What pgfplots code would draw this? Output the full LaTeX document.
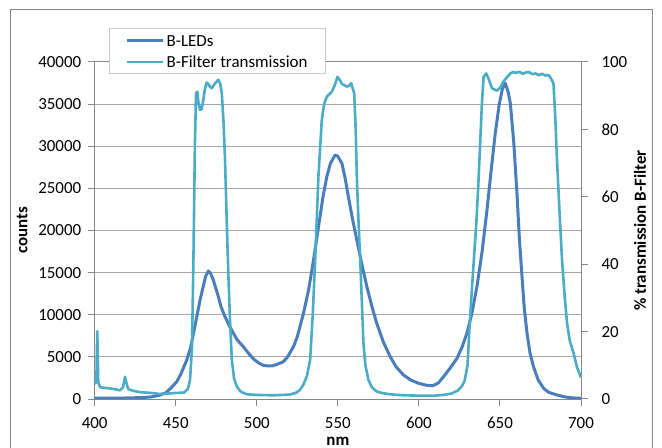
\documentclass[border=0pt]{standalone}
\usepackage{fontspec}
\setmainfont{Carlito}
\usepackage{pgfplots}
\pgfplotsset{compat=1.18}
\definecolor{ledblue}{HTML}{4A7EBB}
\definecolor{filtcyan}{HTML}{4BACC6}
\definecolor{axgray}{HTML}{868686}
\definecolor{gridgray}{HTML}{A6A6A6}
\newcommand{\cf}{\fontsize{17}{20}\selectfont}
\newcommand{\legtxt}[1]{\raisebox{0pt}[13bp][2bp]{#1}}

\pgfplotstableread{
nm counts
400 100
410 100
420 120
430 180
435 250
440 450
444 750
447 1300
450.6 2050
453 2900
456.8 4630
459 6000
461 7830
463 9800
465 11750
467 13400
468.5 14600
470.1 15190
471.5 14900
473.2 14100
476.3 12140
478 10900
480.4 9770
483 8700
485.6 7800
488 7000
491.7 6210
495 5400
498 4750
501 4300
504 4000
507 3920
510 3950
513 4150
516.4 4430
519 5000
522.6 6210
525 7400
528.8 10170
532 13000
535 16500
539 21640
541 24200
543.2 26390
545.5 28000
548.3 28960
550 28800
552.5 27970
554.5 26200
556.5 24010
559 21400
561.7 18870
565 15800
567.9 13330
571 11000
574 8980
578 6800
582.3 5020
586 3800
590.5 2850
595 2250
600 1850
605 1620
608.6 1580
612 1900
615.2 2650
619 3600
623.5 4830
626.5 6100
629.6 7800
632.5 10000
635.8 13330
639 17500
642 22430
644.5 27000
647.1 31540
649.5 34900
651.5 36800
653.3 37470
655 36500
656.4 35100
658.5 30500
660.5 24410
662 19000
663.6 14520
665 10800
666.7 7800
668.5 5500
670.7 3830
673.5 2300
676.9 1270
680 800
685.2 475
690 250
695 130
700 80
}\leds

\pgfplotstableread{
nm trans
400 4.5
401 5
401.6 20.1
402.2 5
403.3 3.5
406 3.3
410 3.1
415.6 2.6
417.5 3.5
418.7 6.6
420 4
420.7 2.9
424 2.4
428 2.0
435 1.8
440 1.5
445 1.6
450 1.8
455 1.9
457.5 3
458.8 5.6
460 15
460.9 41
461.8 75
462.5 90.7
463.3 91.2
464 88
465 85.8
466 86
467 88.7
468 92
469.1 93.9
470 93.5
471 92.8
472.2 92.2
474 93.5
476.3 94.7
477.5 93.5
478.4 90.7
479.5 82
480.4 70.9
481.5 52
482.5 36.3
483.6 22
484.6 11.6
486 6
487.7 3.7
490 2.2
493.8 1.4
500 1.2
510 1.1
520 1.3
524 1.8
526.7 2.7
529 4.5
531 7
532.9 11.6
534.5 25
536 41.2
538 66
540.1 82.8
541.5 87.5
543.2 89.7
546.3 91.2
548 93
549.8 95.6
551 94.8
552.5 93.5
555.6 92.7
557 93
558.2 93.7
560.1 90.7
561 80
561.7 66
562.8 52
563.8 41.2
565.8 16.5
567 10
568.9 5.6
571 3.5
574 2.2
578 1.7
582.3 1.4
590 1.1
600 1.0
610 1.0
615 1.2
620 1.6
624 2.5
626.5 3.8
628.2 5.4
630 10
631.3 22
633.3 37
635.4 52
636.5 62
637.8 75.9
638.8 87
639.9 95.6
641.5 96.6
643 95
645.1 92.2
648.1 91.5
650 92.3
652.2 94.2
654 95.3
656.4 96.6
658 97
660 96.8
662 97.1
664 96.5
666 96.9
668 97
670 96.4
672 96.6
674 96.1
676 96.5
678 96
680 96.1
681 95.5
683 93.7
684 85
685.2 70.9
686.8 55
688.3 41.2
690 30
691.4 22.5
693 17.5
695.4 13.6
697.5 9.5
700 6.4
}\filter

\pgfplotsset{
  common/.style={
    at={(94.7bp,49bp)}, anchor=south west,
    width=486.3bp, height=337bp, scale only axis,
    xmin=400, xmax=700,
    tick align=outside,
    major tick length=7bp,
    tick style={axgray, line width=1bp},
    axis line style={axgray, line width=1bp},
    tick label style={font=\cf, black},
    label style={font=\cf\bfseries},
    /pgf/number format/assume math mode=true,
    /pgf/number format/1000 sep={},
    scaled ticks=false,
  },
}

\begin{document}
\begin{tikzpicture}
\useasboundingbox (0,0) rectangle (662bp,448bp);
\draw[axgray, line width=1.2bp] (10.5bp,0) -- (10.5bp,438.5bp) -- (652.5bp,438.5bp) -- (652.5bp,0);

\begin{axis}[
  common,
  ymin=0, ymax=40000,
  xtick={400,450,...,700},
  ytick={0,5000,...,40000},
  xtick pos=bottom, ytick pos=left,
  ymajorgrids,
  major grid style={gridgray, line width=1bp},
  xticklabel style={inner sep=0.5bp, yshift=-10.5bp},
  yticklabel style={xshift=-3bp},
  xlabel={nm},
  ylabel={counts},
  xlabel style={at={(axis description cs:0.5,-0.1250)}, anchor=center, inner sep=0pt},
  ylabel style={at={(axis description cs:-0.1495,0.5)}, anchor=center},
]
\addplot[ledblue, line width=3bp, line join=round] table[x=nm, y=counts] {\leds};
\end{axis}

\begin{axis}[
  common,
  ymin=0, ymax=100,
  ytick={0,20,...,100},
  axis y line*=right,
  axis x line=none,
  yticklabel style={xshift=10bp},
  ylabel={\% transmission B-Filter},
  ylabel style={at={(axis description cs:1.1213,0.5)}, anchor=center},
  legend style={at={(axis description cs:0.030,1.100)}, anchor=north west,
    draw=gridgray!60, fill=white, line width=0.8bp, font=\cf,
    inner xsep=16bp, inner ysep=2.5bp, row sep=3bp,
    cells={anchor=west}},
  legend image code/.code={\draw[#1] (0bp,0bp) -- (36bp,0bp);},
]
\addlegendimage{ledblue, line width=3bp}
\addlegendentry{\legtxt{B-LEDs}}
\addplot[filtcyan, line width=2.6bp, line join=round] table[x=nm, y=trans] {\filter};
\addlegendentry{\legtxt{B-Filter transmission}}
\end{axis}
\end{tikzpicture}
\end{document}
